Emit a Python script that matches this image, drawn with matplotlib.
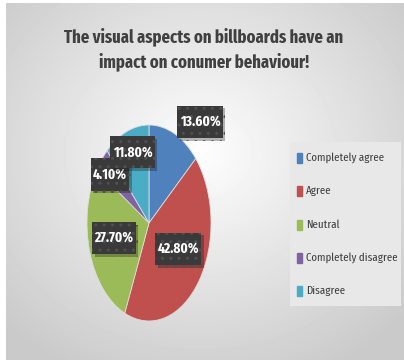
import numpy as np
import matplotlib
matplotlib.use("Agg")
from matplotlib import pyplot as plt
from matplotlib import patheffects as pe
from matplotlib.path import Path

categories = ["Completely agree", "Agree", "Neutral", "Completely disagree", "Disagree"]
shares = [13.6, 42.8, 27.7, 4.1, 11.8]
colors = ["#4F81BD", "#C0504D", "#9BBB59", "#8064A2", "#4BACC6"]
title = "The visual aspects on billboards have an\nimpact on conumer behaviour!"

# where each percentage box sits: distance from centre and angle nudge
label_radius = [1.32, 0.54, 0.59, 0.8, 0.77]
label_shift = [-14, 7, -2, 2, -1]

W, H = 404, 360
fig = plt.figure(figsize=(W / 100, H / 100), dpi=100)
fig.patch.set_facecolor("white")

# grey chart area with a soft radial highlight
bg = fig.add_axes([6 / W, 0, (W - 6) / W, (H - 3) / H])
yy, xx = np.mgrid[0:H - 3, 6:W]
d = np.hypot((xx - 200) / 200, (yy - 150) / 180)
shade = np.clip(0.995 - 0.15 * d, 0.79, 1.0)
bg.imshow(shade, cmap="gray", vmin=0, vmax=1, aspect="auto", interpolation="bicubic")
bg.set_axis_off()

font = ["Fira Sans Extra Condensed", "DejaVu Sans"]

fig.text(204 / W, 1 - 49 / H, title, ha="center", va="center", fontsize=13,
         fontweight="bold", color="#404040", family=font, linespacing=1.45)


def label_box(x0, y0, width, height, mutation_size):
    # flat rectangle, roomier above/below than left/right
    px, py = 0.16 * mutation_size, 0.62 * mutation_size
    x0, x1 = x0 - px, x0 + width + px
    y0, y1 = y0 - py, y0 + height + py
    return Path([(x0, y0), (x1, y0), (x1, y1), (x0, y1), (x0, y0)], closed=True)


# elliptical pie: axes stretched taller than wide
cxp, cyp, rx, ry = 149, 223, 62, 98
ax = fig.add_axes([(cxp - rx) / W, (H - cyp - ry) / H, 2 * rx / W, 2 * ry / H])
wedges, _ = ax.pie(shares, colors=colors, startangle=90, counterclock=False,
                   radius=1, wedgeprops=dict(linewidth=0.6, edgecolor="#dcdcdc"))
ax.set_aspect("auto")
ax.set_xlim(-1, 1)
ax.set_ylim(-1, 1)
ax.set_axis_off()

for w, v, r, s in zip(wedges, shares, label_radius, label_shift):
    mid = np.deg2rad((w.theta1 + w.theta2) / 2 + s)
    t = ax.text(r * np.cos(mid), r * np.sin(mid), f"{v:.2f}%", ha="center", va="center",
                fontsize=10.5, fontweight="bold", color="white", family=font,
                clip_on=False, zorder=5,
                bbox=dict(boxstyle=label_box, facecolor="#3a3a3a",
                          edgecolor="#505050", hatch="..", linewidth=0))
    t.get_bbox_patch().set_path_effects(
        [pe.SimplePatchShadow(offset=(2, -2), alpha=0.3), pe.Normal()])

# legend panel
lg = fig.add_axes([290 / W, (H - 306) / H, 111 / W, 164 / H])
lg.set_facecolor("#e8e8e8")
lg.set_xticks([])
lg.set_yticks([])
for sp in lg.spines.values():
    sp.set_visible(False)
lg.set_xlim(290, 401)
lg.set_ylim(306, 142)
ys = np.linspace(158, 291, len(categories))
for name, c, y in zip(categories, colors, ys):
    lg.add_patch(plt.Rectangle((297, y - 5), 5, 10, color=c))
    lg.text(306, y, name, va="center", ha="left", fontsize=8.5, color="#404040", family=font)

fig.savefig("out.png", dpi=100)
